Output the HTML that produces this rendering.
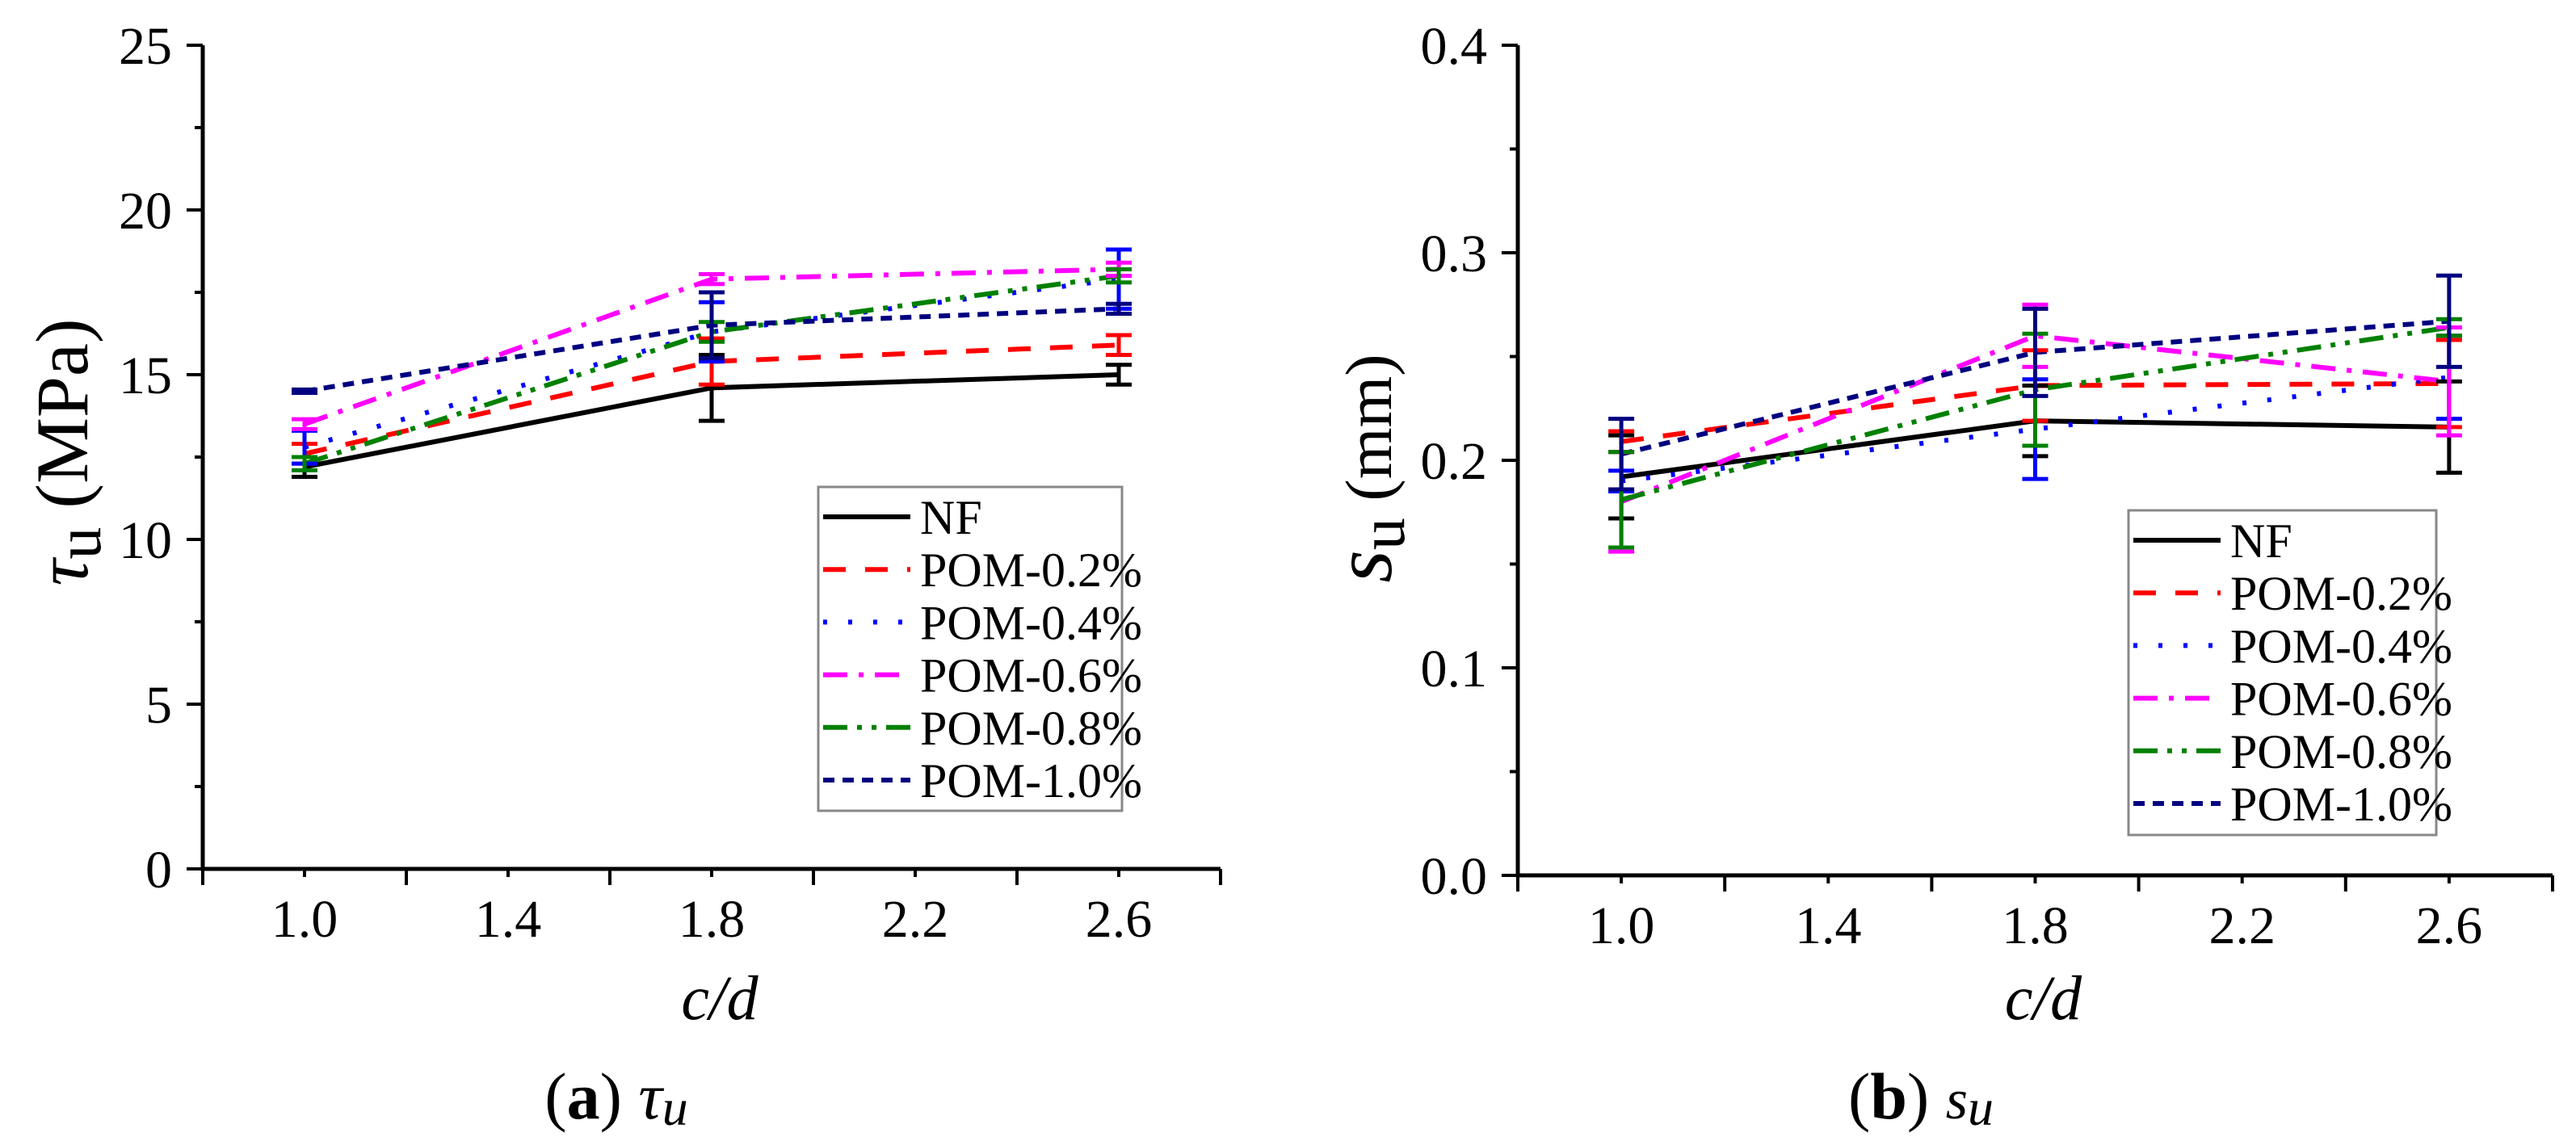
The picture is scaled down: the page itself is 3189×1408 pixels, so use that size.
<!DOCTYPE html>
<html><head><meta charset="utf-8"><style>
html,body{margin:0;padding:0;background:#fff;}
svg{display:block;font-family:"Liberation Serif",serif;}
</style></head><body>
<svg id="fig" width="3189" height="1408" viewBox="0 0 3189 1408" xmlns="http://www.w3.org/2000/svg"></svg>
<script>
const xCats = [1.0, 1.8, 2.6];
const xTicks = ["1.0","1.4","1.8","2.2","2.6"];
const seriesNames = ["NF","POM-0.2%","POM-0.4%","POM-0.6%","POM-0.8%","POM-1.0%"];
const tauNF = [12.2, 14.6, 15.0];
const tau02 = [12.6, 15.4, 15.9];
const tau04 = [12.8, 16.3, 17.9];
const tau06 = [13.5, 17.9, 18.2];
const tau08 = [12.3, 16.3, 18.0];
const tau10 = [14.5, 16.5, 17.0];
const tauErrNF = [0.3, 1.0, 0.3];
const tauErr02 = [0.3, 0.7, 0.3];
const tauErr04 = [0.5, 0.9, 0.9];
const tauErr06 = [0.15, 0.15, 0.2];
const tauErr08 = [0.2, 0.3, 0.2];
const tauErr10 = [0.05, 1.0, 0.15];
const tauTicks = ["0","5","10","15","20","25"];
const sNF = [0.192, 0.219, 0.216];
const s02 = [0.209, 0.236, 0.237];
const s04 = [0.190, 0.215, 0.240];
const s06 = [0.180, 0.260, 0.238];
const s08 = [0.181, 0.234, 0.264];
const s10 = [0.203, 0.252, 0.267];
const sErrNF = [0.020, 0.017, 0.022];
const sErr02 = [0.005, 0.017, 0.021];
const sErr04 = [0.005, 0.024, 0.020];
const sErr06 = [0.024, 0.015, 0.026];
const sErr08 = [0.023, 0.027, 0.004];
const sErr10 = [0.017, 0.021, 0.022];
const sTicks = ["0.0","0.1","0.2","0.3","0.4"];

const NS="http://www.w3.org/2000/svg";
const svg=document.getElementById('fig');
function mk(tag,attrs,parent){const e=document.createElementNS(NS,tag);for(const k in attrs)e.setAttribute(k,attrs[k]);(parent||svg).appendChild(e);return e;}
const styles=[
 {c:"#000000",d:"none"},
 {c:"#ff0000",d:"28 24"},
 {c:"#0000ff",d:"5 26"},
 {c:"#ff00ff",d:"30 14 6 14"},
 {c:"#008000",d:"30 12 6 12 6 12"},
 {c:"#000080",d:"14 10"}];

function panel(p){
  const g=mk('g',{});
  
  
  const X=v=>p.x0+(v-0.8)/2.0*(p.x1-p.x0);
  const Y=v=>p.yb-(v/p.ymax)*(p.yb-p.yt);
  p.vals.forEach((vals,i)=>{
    const st=styles[i];
    const pts=vals.map((v,j)=>X(xCats[j])+","+Y(v)).join(" ");
    const pl=mk('polyline',{points:pts,fill:"none",stroke:st.c,"stroke-width":6,"stroke-dasharray":st.d},g);
    
    
  });
  p.vals.forEach((vals,i)=>{
    const st=styles[i];
    vals.forEach((v,j)=>{
      const e=p.errs[i][j];const x=X(xCats[j]);
      const eb=mk('path',{d:`M${x},${Y(v-e)}V${Y(v+e)}M${x-16},${Y(v-e)}h32M${x-16},${Y(v+e)}h32`,stroke:st.c,"stroke-width":5,fill:"none"},g);
      
      
    });
  });
  const ax=mk('path',{d:`M${p.x0},${p.yt}V${p.yb}H${p.x1}`,stroke:"#000","stroke-width":5,fill:"none"},g);
  
  
  const n=p.yticks.length-1;
  for(let k=0;k<=2*n;k++){
    const v=p.ymax*k/(2*n);const y=Y(v);
    mk('line',{x1:p.x0-(k%2?10:20),x2:p.x0,y1:y,y2:y,stroke:"#000","stroke-width":4},g);
    if(k%2===0){
      const t=mk('text',{x:p.x0-38,y:y+23,"font-size":66,"text-anchor":"end"},g);
      t.textContent=p.yticks[k/2];
      
      
    }
  }
  for(let k=0;k<=10;k++){
    const v=0.8+0.2*k;const x=X(v);
    mk('line',{x1:x,x2:x,y1:p.yb,y2:p.yb+(k%2?10:20),stroke:"#000","stroke-width":4},g);
    if(k%2===1){
      const t=mk('text',{x:x,y:p.yb+84,"font-size":66,"text-anchor":"middle"},g);
      t.textContent=xTicks[(k-1)/2];
      
      
    }
  }
  const xt=mk('text',{x:X(1.8)+10,y:1262,"font-size":78,"font-style":"italic","text-anchor":"middle"},g);
  xt.textContent="c/d";
  
  
  const L=p.leg;
  const lb=mk('rect',{x:L.x,y:L.y,width:L.w,height:L.h,fill:"#fff",stroke:"#888","stroke-width":3},g);
  
  
  seriesNames.forEach((nm,i)=>{
    const cy=L.y+37+i*65.2;
    mk('line',{x1:L.x+6,x2:L.x+114,y1:cy,y2:cy,stroke:styles[i].c,"stroke-width":6,"stroke-dasharray":styles[i].d},g);
    const t=mk('text',{x:L.x+126,y:cy+21,"font-size":60},g);
    t.textContent=nm;
    
    
  });
  return {g,X,Y};
}

panel({name:"tau-chart",x0:251,x1:1511,yt:56,yb:1076,ymax:25,yticks:tauTicks,
  vals:[tauNF,tau02,tau04,tau06,tau08,tau10],errs:[tauErrNF,tauErr02,tauErr04,tauErr06,tauErr08,tauErr10],
  leg:{x:1013,y:603,w:376,h:401}});
panel({name:"su-chart",x0:1879,x1:3160,yt:56,yb:1084,ymax:0.4,yticks:sTicks,
  vals:[sNF,s02,s04,s06,s08,s10],errs:[sErrNF,sErr02,sErr04,sErr06,sErr08,sErr10],
  leg:{x:2635,y:632,w:381,h:402}});
</script>
<script>
const s=document.getElementById('fig');
function T(html,attrs,name){const t=document.createElementNS("http://www.w3.org/2000/svg",'text');for(const k in attrs)t.setAttribute(k,attrs[k]);t.innerHTML=html;s.appendChild(t);

}
T('<tspan font-style="italic">τ</tspan><tspan dy="16" font-size="80">u</tspan><tspan dy="-16"> (MPa)</tspan>',{x:0,y:0,"font-size":92,"text-anchor":"middle",transform:"translate(108,560) rotate(-90)"},'y-axis-title');
T('<tspan font-style="italic" font-size="104">s</tspan><tspan dy="16" font-size="80">u</tspan><tspan dy="-16">  (mm)</tspan>',{x:0,y:0,"font-size":82,"text-anchor":"middle",transform:"translate(1722,580) rotate(-90)"},'y-axis-title');
T('(<tspan font-weight="bold">a</tspan>) <tspan font-style="italic">τ</tspan><tspan font-style="italic" font-size="64" dy="8">u</tspan>',{x:763,y:1385,"font-size":82,"text-anchor":"middle"},'caption-a');
T('(<tspan font-weight="bold">b</tspan>) <tspan font-style="italic" font-size="70">s</tspan><tspan font-style="italic" font-size="64" dy="8">u</tspan>',{x:2378,y:1385,"font-size":82,"text-anchor":"middle"},'caption-b');
</script>
</body></html>
